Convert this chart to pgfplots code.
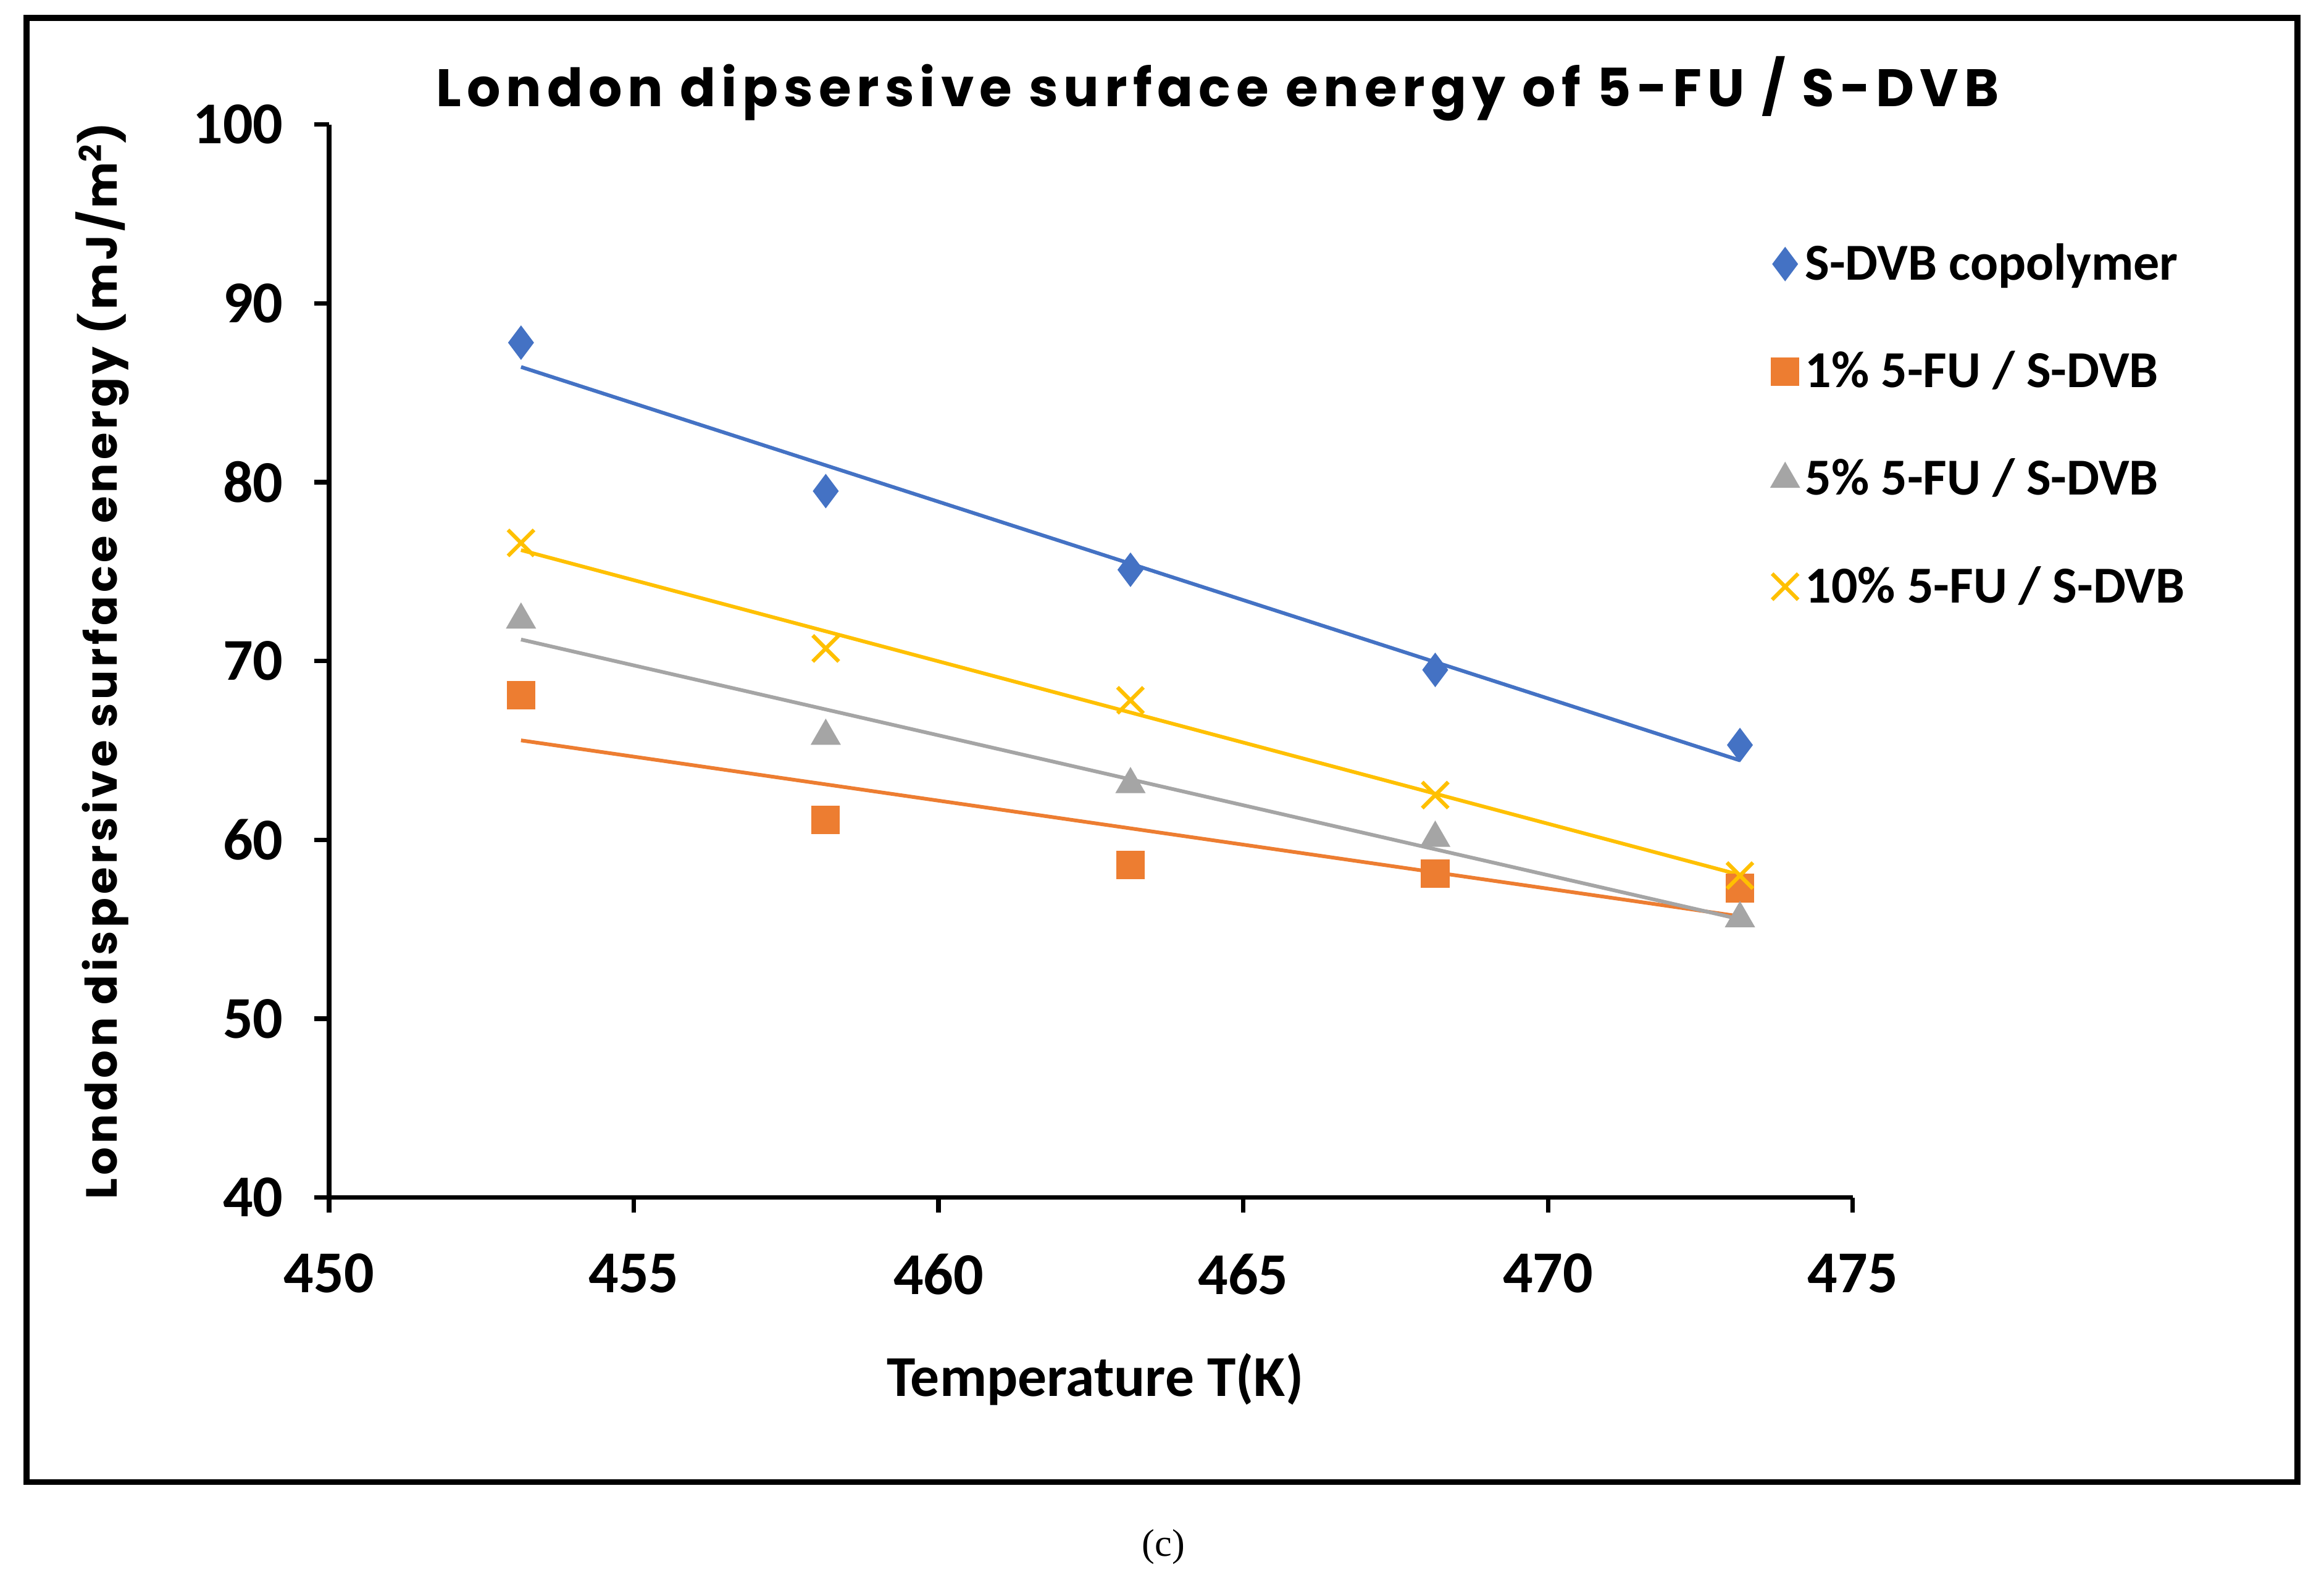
\documentclass[border=0pt]{standalone}
\usepackage{pgfplots}
\pgfplotsset{compat=1.18}
\usepackage{fontspec}
\setmainfont{Carlito}
\newfontfamily\gothic[LetterSpace=10.5]{Poppins}
\newfontfamily\gothicy[LetterSpace=8]{Poppins}
\newfontfamily\timesf{Liberation Serif}
\definecolor{cblue}{HTML}{4472C4}
\definecolor{corange}{HTML}{ED7D31}
\definecolor{cgray}{HTML}{A5A5A5}
\definecolor{cyellow}{HTML}{FFC000}
\begin{document}
\begin{tikzpicture}[x=1pt,y=1pt]
\useasboundingbox (0,0) rectangle (784,534);
\fill[white] (0,0) rectangle (784,534);
\draw[line width=2pt] (9,34) rectangle (775,528);
\node[anchor=base] at (392.5,9) {\timesf\fontsize{13}{14}\selectfont (c)};
\node[anchor=base] at (410.75,498) {\gothic\bfseries\fontsize{17.8}{20}\selectfont London dipsersive surface energy of 5-FU / S-DVB};
\node[anchor=base,rotate=90] at (39.5,311) {\gothicy\bfseries\fontsize{14.7}{16}\selectfont London dispersive surface energy (mJ/m\textsuperscript{2})};
\node[anchor=base] at (369.5,63) {\bfseries\fontsize{19.5}{21}\selectfont Temperature T(K)};
\begin{axis}[
  at={(111pt,130pt)}, anchor=south west,
  width=514pt, height=362pt, scale only axis,
  xmin=450, xmax=475, ymin=40, ymax=100,
  xtick={450,455,...,475}, ytick={40,50,...,100},
  axis x line*=bottom, axis y line*=left,
  axis line style={line width=1.5pt, black},
  tick style={line width=1.5pt, black},
  tick align=outside, major tick length=5pt,
  /pgf/number format/assume math mode=true,
  /pgf/number format/1000 sep={},
  ticklabel style={font=\bfseries\fontsize{20}{21}\selectfont},
  xticklabel style={yshift=-10.5pt},
  yticklabel style={xshift=-7pt},
  legend style={draw=none, fill=none, at={(0.946,0.895)}, anchor=north west,
    font=\bfseries\fontsize{17.5}{19}\selectfont, row sep=18.5pt, inner sep=0pt},
  legend cell align=left,
]
\addplot[only marks, mark=diamond*, mark size=5.5pt, color=cblue] coordinates {
 (453.15,87.8) (458.15,79.5) (463.15,75.1) (468.15,69.5) (473.15,65.3)};
\addlegendentry{S-DVB copolymer}
\addplot[only marks, mark=square*, mark size=4.6pt, color=corange] coordinates {
 (453.15,68.1) (458.15,61.1) (463.15,58.6) (468.15,58.1) (473.15,57.3)};
\addlegendentry{1\% 5-FU / S-DVB}
\addplot[only marks, mark=triangle*, mark size=5.5pt, color=cgray] coordinates {
 (453.15,72.3) (458.15,65.8) (463.15,63.1) (468.15,60.1) (473.15,55.6)};
\addlegendentry{5\% 5-FU / S-DVB}
\addplot[only marks, mark=x, mark size=6.2pt, line width=1.3pt, color=cyellow] coordinates {
 (453.15,76.6) (458.15,70.7) (463.15,67.8) (468.15,62.5) (473.15,58.0)};
\addlegendentry{10\% 5-FU / S-DVB}
\addplot[forget plot, no marks, line width=1.25pt, color=cblue] coordinates {(453.15,86.44) (473.15,64.44)};
\addplot[forget plot, no marks, line width=1.25pt, color=corange] coordinates {(453.15,65.56) (473.15,55.72)};
\addplot[forget plot, no marks, line width=1.25pt, color=cgray] coordinates {(453.15,71.20) (473.15,55.56)};
\addplot[forget plot, no marks, line width=1.25pt, color=cyellow] coordinates {(453.15,76.20) (473.15,58.04)};
\end{axis}
\end{tikzpicture}
\end{document}
